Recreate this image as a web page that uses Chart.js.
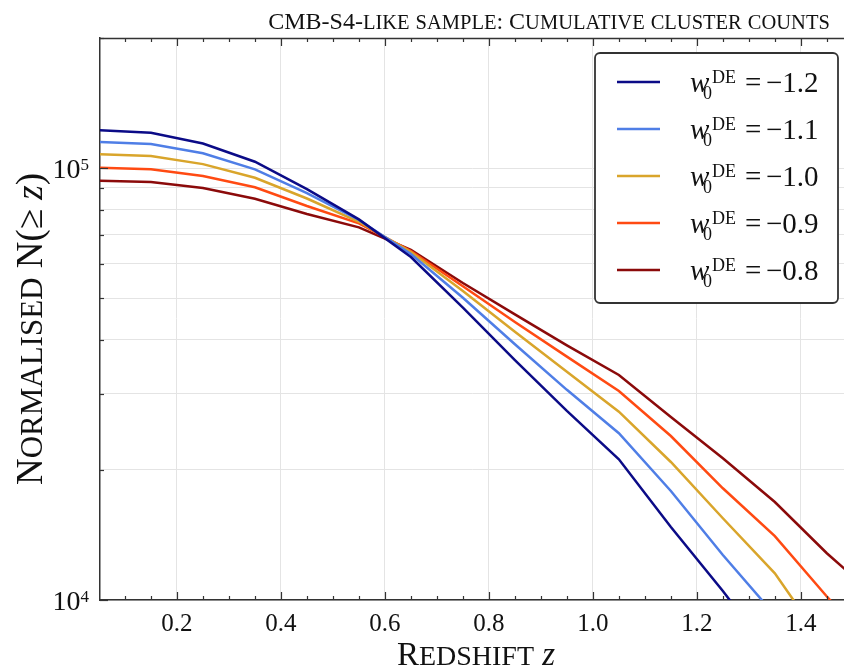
<!DOCTYPE html>
<html>
<head>
<meta charset="utf-8">
<script src="https://cdn.jsdelivr.net/npm/chart.js@4.4.1/dist/chart.umd.min.js"></script>
<style>
  html, body { margin: 0; padding: 0; background: #fff; overflow: hidden; }
  #wrap { width: 844px; height: 671px; }
</style>
</head>
<body>
<div id="wrap"><canvas id="chart" width="844" height="671"></canvas></div>
<script>
// redshift bins (z) and cumulative counts per dark-energy model
const zVals = [0.05, 0.15, 0.25, 0.35, 0.45, 0.55, 0.65, 0.75, 0.85, 0.95, 1.05, 1.15, 1.25, 1.35, 1.45, 1.55];
const nW12 = [122400, 120700, 114000, 103400, 89400, 76060, 62230, 47500, 35940, 27410, 21170, 14750, 10490, 7300, 5080, 3500];
const nW11 = [114900, 113600, 108200, 99300, 87500, 75800, 63230, 50100, 39080, 30660, 24320, 17880, 12710, 9230, 6630, 4800];
const nW10 = [107600, 106600, 102100, 94960, 85000, 75100, 63900, 51930, 41790, 33780, 27290, 20870, 15460, 11530, 7740, 5500];
const nW09 = [100200, 99300, 95800, 90250, 81660, 74470, 64270, 53250, 44000, 36590, 30460, 23970, 18140, 14060, 10190, 7500];
const nW08 = [93450, 92800, 89900, 84900, 78300, 72900, 64640, 54190, 45840, 38870, 33190, 26530, 21280, 16860, 12830, 10050];

const wLabels = ["\u22121.2", "\u22121.1", "\u22121.0", "\u22120.9", "\u22120.8"];
const colors = ["#0b0b87", "#4f7ee6", "#d9a52b", "#ff4a12", "#8b0a0a"];
const series = [nW12, nW11, nW10, nW09, nW08];

const xMajorTicks = [0.2, 0.4, 0.6, 0.8, 1.0, 1.2, 1.4];
const yMajorTicks = [1e4, 1e5];
const yMinorTicks = [2e4, 3e4, 4e4, 5e4, 6e4, 7e4, 8e4, 9e4, 2e5];

const FONT = '"Liberation Serif", "DejaVu Serif", serif';
const GRID = "#e4e4e4";
const SPINE = "#333";
const X_MIN = 0.052, X_MAX = 1.483;

const isMajorX = (v) => xMajorTicks.some((m) => Math.abs(m - v) < 1e-6);

// split a string into small-caps runs
function smallCaps(str, big, small) {
  const runs = [];
  for (const ch of str) {
    const lower = ch !== ch.toUpperCase();
    const size = lower ? small : big;
    const t = lower ? ch.toUpperCase() : ch;
    const last = runs[runs.length - 1];
    if (last && last.size === size && !last.style) last.t += t;
    else runs.push({ t: t, size: size });
  }
  return runs;
}

function drawRuns(ctx, runs, x, y, align) {
  let total = 0;
  runs.forEach((r) => {
    ctx.font = (r.style || "") + " " + r.size + "px " + FONT;
    r.w = ctx.measureText(r.t).width;
    total += r.w;
  });
  let cx = align === "center" ? x - total / 2 : align === "right" ? x - total : x;
  ctx.textAlign = "left";
  ctx.textBaseline = "alphabetic";
  runs.forEach((r) => {
    ctx.font = (r.style || "") + " " + r.size + "px " + FONT;
    ctx.fillText(r.t, cx, y);
    cx += r.w;
  });
}

const frame = {
  id: "frame",
  afterDatasetsDraw(chart) {
    const ctx = chart.ctx;
    const a = chart.chartArea;
    const xs = chart.scales.x;
    const ys = chart.scales.y;
    ctx.save();
    ctx.strokeStyle = SPINE;
    ctx.lineWidth = 1.2;
    // x ticks, pointing in (bottom and top)
    xs.ticks.forEach((t) => {
      const px = Math.round(xs.getPixelForValue(t.value)) + 0.5;
      const len = isMajorX(t.value) ? 8 : 4;
      ctx.beginPath();
      ctx.moveTo(px, a.bottom);
      ctx.lineTo(px, a.bottom - len);
      ctx.moveTo(px, a.top);
      ctx.lineTo(px, a.top + len);
      ctx.stroke();
    });
    // y ticks
    yMajorTicks.concat(yMinorTicks).forEach((v) => {
      const py = Math.round(ys.getPixelForValue(v)) + 0.5;
      const len = yMajorTicks.includes(v) ? 8 : 4;
      ctx.beginPath();
      ctx.moveTo(a.left, py);
      ctx.lineTo(a.left + len, py);
      ctx.stroke();
    });
    // top spine
    ctx.lineWidth = 1.5;
    ctx.beginPath();
    ctx.moveTo(a.left, a.top + 0.5);
    ctx.lineTo(a.right, a.top + 0.5);
    ctx.stroke();
    ctx.restore();
  },
  afterDraw(chart) {
    const ctx = chart.ctx;
    const ys = chart.scales.y;
    ctx.save();
    ctx.fillStyle = "#111";

    // y tick labels 10^4, 10^5
    yMajorTicks.forEach((v) => {
      const py = ys.getPixelForValue(v);
      const exp = String(Math.round(Math.log10(v)));
      ctx.font = "17px " + FONT;
      ctx.textAlign = "right";
      ctx.textBaseline = "alphabetic";
      ctx.fillText(exp, 89, py + 2);
      const ew = ctx.measureText(exp).width;
      ctx.font = "28px " + FONT;
      ctx.fillText("10", 89 - ew, py + 10);
    });

    // title
    drawRuns(ctx, smallCaps("CMB-S4-like sample: Cumulative cluster counts", 24, 20.5), 549, 29, "center");

    // x axis title
    const xr = smallCaps("Redshift", 33, 28);
    xr.push({ t: " ", size: 33 });
    xr.push({ t: "z", size: 33, style: "italic" });
    drawRuns(ctx, xr, 476, 665, "center");

    // y axis title
    const yr = smallCaps("Normalised", 37, 31);
    yr.push({ t: " N(\u2265 ", size: 37 });
    yr.push({ t: "z", size: 37, style: "italic" });
    yr.push({ t: ")", size: 37 });
    ctx.save();
    ctx.translate(42, 329);
    ctx.rotate(-Math.PI / 2);
    drawRuns(ctx, yr, 0, 0, "center");
    ctx.restore();

    // legend
    const bx = 595, by = 53, bw = 243, bh = 250;
    ctx.beginPath();
    ctx.roundRect(bx, by, bw, bh, 5);
    ctx.fillStyle = "#fff";
    ctx.fill();
    ctx.lineWidth = 1.8;
    ctx.strokeStyle = "#333";
    ctx.stroke();
    chart.data.datasets.forEach((ds, i) => {
      const ry = 82 + i * 47;
      ctx.strokeStyle = ds.borderColor;
      ctx.lineWidth = 2.5;
      ctx.beginPath();
      ctx.moveTo(617, ry);
      ctx.lineTo(660, ry);
      ctx.stroke();
      ctx.fillStyle = "#111";
      ctx.textAlign = "left";
      ctx.textBaseline = "alphabetic";
      ctx.font = "italic 29px " + FONT;
      ctx.fillText("w", 690, ry + 10);
      ctx.font = "18px " + FONT;
      ctx.fillText("DE", 712, ry + 1);
      ctx.fillText("0", 703, ry + 17);
      ctx.font = "29px " + FONT;
      ctx.fillText("=", 745, ry + 10);
      ctx.fillText(wLabels[i], 766, ry + 10);
    });
    ctx.restore();
  },
};

const datasets = series.map((vals, i) => ({
  label: "w0DE = " + wLabels[i],
  data: zVals.map((z, k) => ({ x: z, y: vals[k] })),
  borderColor: colors[i],
  backgroundColor: colors[i],
  borderWidth: 2.5,
  pointRadius: 0,
  tension: 0,
  fill: false,
}));

new Chart(document.getElementById("chart"), {
  type: "line",
  data: { datasets: datasets },
  options: {
    responsive: false,
    animation: false,
    layout: { padding: { top: 38, right: 0, left: 0, bottom: 0 } },
    plugins: { legend: { display: false }, title: { display: false }, tooltip: { enabled: false } },
    scales: {
      x: {
        type: "linear",
        min: X_MIN,
        max: X_MAX,
        afterBuildTicks: (scale) => {
          const t = [];
          for (let k = 2; k * 0.05 <= X_MAX; k++) t.push({ value: Math.round(k * 5) / 100 });
          scale.ticks = t;
        },
        afterFit: (scale) => {
          scale.height = 71;
          scale.paddingLeft = 0;
          scale.paddingRight = 0;
        },
        grid: {
          drawTicks: false,
          color: (c) => (c.tick && isMajorX(c.tick.value) ? GRID : "rgba(0,0,0,0)"),
          lineWidth: 1,
        },
        border: { display: true, color: SPINE, width: 1.5 },
        ticks: {
          autoSkip: false,
          maxRotation: 0,
          padding: 9,
          color: "#111",
          font: { family: FONT, size: 25 },
          callback: (v) => (isMajorX(v) ? v.toFixed(1) : ""),
        },
      },
      y: {
        type: "logarithmic",
        min: 1e4,
        max: 2e5,
        afterBuildTicks: (scale) => {
          scale.ticks = yMajorTicks.concat(yMinorTicks).sort((a, b) => a - b).map((v) => ({ value: v }));
        },
        afterFit: (scale) => { scale.width = 100; },
        grid: { drawTicks: false, color: GRID, lineWidth: 1 },
        border: { display: true, color: SPINE, width: 1.5 },
        ticks: { display: false },
      },
    },
  },
  plugins: [frame],
});
</script>
</body>
</html>
